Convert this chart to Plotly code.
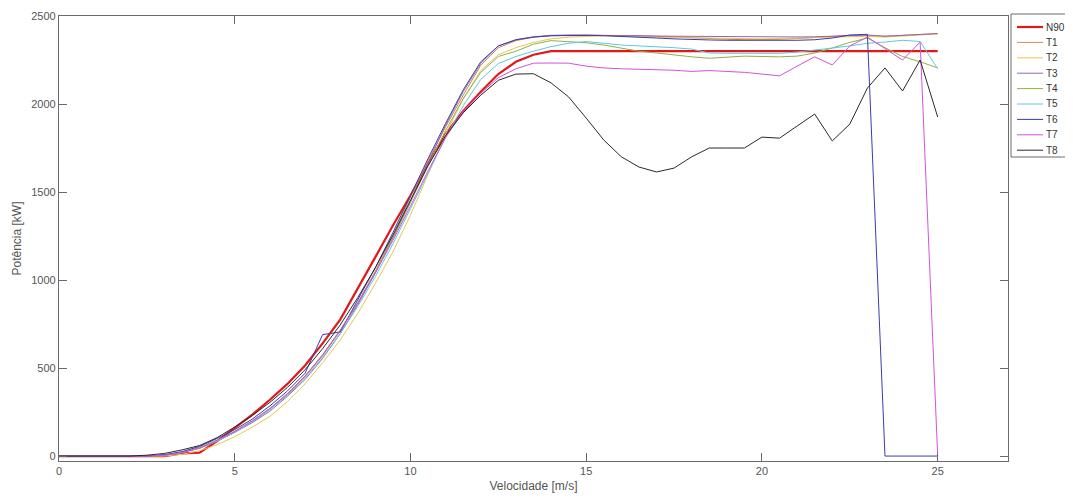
import plotly.graph_objects as go

# Wind speed bins (m/s)
velocidade = [i * 0.5 for i in range(51)]

# Power curves (kW), one value per 0.5 m/s bin from 0 to 25 m/s
n90 = [0, 0, 0, 0, 0, 0, 0, 15, 20, 85, 160, 235, 320, 410, 515, 640, 775, 950, 1130, 1310,
       1480, 1660, 1830, 1960, 2070, 2170, 2240, 2280,
       2300, 2300, 2300, 2300, 2300, 2300, 2300, 2300, 2300, 2300, 2300, 2300, 2300, 2300,
       2300, 2300, 2300, 2300, 2300, 2300, 2300, 2300, 2300]

t1 = [0, 0, 0, 0, 0, 0, 5, 20, 45, 85, 135, 195, 265, 350, 450, 570, 710, 870, 1050, 1250,
      1470, 1680, 1870, 2050, 2220, 2320, 2360, 2380,
      2388, 2392, 2392, 2390, 2390, 2388, 2385, 2380, 2378, 2372, 2368, 2365, 2365, 2368,
      2372, 2378, 2385, 2390, 2388, 2385, 2390, 2395, 2400]

t2 = [0, 0, 0, 0, 0, 0, 0, 10, 30, 65, 110, 165, 225, 310, 410, 530, 660, 810, 980, 1160,
      1370, 1600, 1830, 2030, 2190, 2280, 2320, 2350,
      2370, 2380, 2385, 2388, 2385, 2382, 2380, 2378, 2376, 2375, 2372, 2370, 2370, 2372,
      2375, 2378, 2380, 2385, 2385, 2380, 2385, 2392, 2398]

t3 = [0, 0, 0, 0, 0, 0, 5, 20, 45, 85, 135, 190, 255, 340, 435, 555, 695, 860, 1040, 1240,
      1450, 1670, 1880, 2070, 2230, 2330, 2365, 2382,
      2390, 2392, 2390, 2390, 2388, 2388, 2386, 2385, 2384, 2383, 2382, 2382, 2380, 2380,
      2381, 2382, 2385, 2390, 2392, 2385, 2388, 2395, 2400]

t4 = [0, 0, 0, 0, 0, 0, 5, 22, 50, 90, 140, 200, 270, 355, 455, 575, 715, 870, 1045, 1235,
      1440, 1650, 1850, 2030, 2180, 2270, 2300, 2340,
      2360, 2352, 2348, 2335, 2318, 2300, 2290, 2278, 2268, 2260, 2268, 2272, 2270, 2268,
      2272, 2290, 2318, 2350, 2375, 2320, 2270, 2240, 2205]

t5 = [0, 0, 0, 0, 0, 0, 5, 20, 45, 85, 135, 195, 265, 345, 440, 560, 695, 850, 1020, 1205,
      1405, 1610, 1810, 1990, 2140, 2230, 2270, 2300,
      2326, 2345, 2355, 2345, 2335, 2330, 2326, 2320, 2312, 2290, 2288, 2288, 2290, 2288,
      2295, 2305, 2318, 2330, 2345, 2352, 2362, 2355, 2200]

t6 = [0, 0, 0, 0, 0, 0, 8, 25, 55, 100, 150, 210, 285, 370, 470, 690, 705, 890, 1070, 1270,
      1480, 1690, 1890, 2080, 2240, 2330, 2365, 2380,
      2388, 2390, 2390, 2388, 2385, 2380, 2375, 2370, 2365, 2364, 2362, 2362, 2360, 2362,
      2362, 2365, 2375, 2392, 2396, 0, 0, 0, 0]

t7 = [0, 0, 0, 0, 0, 0, 5, 20, 45, 90, 140, 200, 270, 355, 455, 575, 715, 870, 1040, 1225,
      1420, 1620, 1810, 1960, 2060, 2150, 2200, 2232,
      2233, 2232, 2215, 2205, 2200, 2198, 2195, 2192, 2185, 2190, 2185, 2180, 2170, 2160,
      2215, 2268, 2222, 2330, 2380, 2315, 2250, 2352, 0]

t8 = [0, 0, 0, 0, 0, 5, 15, 35, 60, 105, 165, 230, 305, 390, 490, 610, 745, 900, 1070, 1255,
      1450, 1650, 1820, 1950, 2050, 2135, 2170, 2172,
      2120, 2040, 1920, 1795, 1700, 1642, 1614, 1636, 1700, 1750, 1750, 1750, 1812, 1806,
      1875, 1943, 1790, 1886, 2091, 2205, 2074, 2250, 1926]

nomes = ["N90", "T1", "T2", "T3", "T4", "T5", "T6", "T7", "T8"]
series = [n90, t1, t2, t3, t4, t5, t6, t7, t8]
cores = ["#E01818", "#CD8A55", "#E9C650", "#9468AE", "#8FB244", "#5CC9E6",
         "#3B3BB0", "#D452DC", "#2A2A2A"]
larguras = [2.2, 1, 1, 1, 1, 1, 1, 1, 1]

# Figure geometry (the page adds an 8px body margin around the figure;
# figure sized so that it fits the window without overflow)
W, H = 1057, 485
ML, MR, MT, MB = 51, 57, 8, 32
PW, PH = W - ML - MR, H - MT - MB


def px_x(fx):
    return (fx - ML) / PW


def px_y(fy):
    return (H - MB - fy) / PH


fig = go.Figure()
for nome, vals, cor, lw in zip(nomes, series, cores, larguras):
    fig.add_trace(go.Scatter(x=velocidade, y=vals, mode="lines", name=nome,
                             line=dict(color=cor, width=lw)))

axis_common = dict(
    showline=True, linecolor="#6a6a6a", linewidth=1.3, mirror="allticks",
    ticks="inside", ticklen=8, tickcolor="#6a6a6a", tickwidth=1,
    showgrid=False, zeroline=False,
    tickfont=dict(family="Liberation Sans, Arial, sans-serif", size=11, color="#555555"),
)

# Hand-drawn legend (MATLAB-style compact legend box)
shapes = [dict(type="rect", xref="paper", yref="paper",
               x0=px_x(1003), x1=px_x(1070), y0=px_y(149), y1=px_y(6),
               line=dict(color="#6a6a6a", width=1), fillcolor="white", layer="above")]
annotations = []
for i, (nome, cor, lw) in enumerate(zip(nomes, cores, larguras)):
    fy = 19 + 15.4 * i
    shapes.append(dict(type="line", xref="paper", yref="paper",
                       x0=px_x(1009), x1=px_x(1035), y0=px_y(fy), y1=px_y(fy),
                       line=dict(color=cor, width=lw), layer="above"))
    annotations.append(dict(text=nome, xref="paper", yref="paper",
                            x=px_x(1037), y=px_y(fy), xanchor="left", yanchor="middle",
                            showarrow=False, borderpad=0,
                            font=dict(family="Liberation Sans, Arial, sans-serif",
                                      size=10, color="#333333")))

fig.update_layout(
    width=W, height=H,
    margin=dict(l=ML, r=MR, t=MT, b=MB, autoexpand=False),
    paper_bgcolor="white", plot_bgcolor="white",
    font=dict(family="Liberation Sans, Arial, sans-serif", color="#555555"),
    xaxis=dict(range=[0, 27], tickvals=[0, 5, 10, 15, 20, 25],
               title=dict(text="Velocidade [m/s]", standoff=12,
                          font=dict(size=12, color="#555555")),
               **axis_common),
    yaxis=dict(range=[-28, 2500], tickvals=[0, 500, 1000, 1500, 2000, 2500],
               title=dict(text="Potência [kW]", standoff=6,
                          font=dict(size=12, color="#555555")),
               **axis_common),
    shapes=shapes,
    annotations=annotations,
    showlegend=False,
)

fig.write_html("out.html", config={"displayModeBar": False})
